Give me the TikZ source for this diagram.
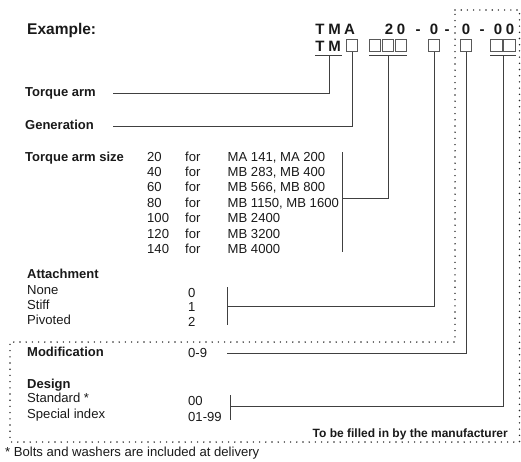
\documentclass[tikz,border=0pt]{standalone}
\usepackage{fontspec}
\setmainfont{Liberation Sans}
\begin{document}
\begin{tikzpicture}[x=1pt,y=-1pt,
  lab/.style={anchor=base west,inner sep=0pt,text=black!90,font=\bfseries\fontsize{13}{15}\selectfont},
  txt/.style={anchor=base west,inner sep=0pt,text=black!90,font=\fontsize{13.1}{15}\selectfont},
  chr/.style={anchor=base,inner sep=0pt,text=black!90,font=\bfseries\fontsize{15}{17}\selectfont},
  cbox/.style={draw=black!65,line width=0.7pt,minimum width=11.5pt,minimum height=11.5pt,inner sep=0pt},
  lead/.style={draw=black!75,line width=0.8pt},
  dots/.style={draw=black!85,line width=1.6pt,dash pattern=on 0pt off 6.2pt,line cap=round}]
\useasboundingbox (0,0) rectangle (521,461);

% dotted region (to be filled in by the manufacturer)
\draw[dots] (455,10) -- (519.5,10) -- (519.5,442) -- (10,442) -- (10,342) -- (455,342) -- cycle;

% header
\node[lab,font=\bfseries\fontsize{15.5}{17}\selectfont] (ex) at (27,34.5) {Example:};
\node[chr] (r1a) at (320,34.5) {T};
\node[chr] (r1b) at (334.5,34.5) {M};
\node[chr] (r1c) at (349.5,34.5) {A};
\node[chr] (r1d) at (389,34.5) {2};
\node[chr] (r1e) at (401,34.5) {0};
\node[chr] (r1f) at (418,34.5) {-};
\node[chr] (r1g) at (434,34.5) {0};
\node[chr] (r1h) at (447,34.5) {-};
\node[chr] (r1i) at (466,34.5) {0};
\node[chr] (r1j) at (482,34.5) {-};
\node[chr] (r1k) at (498,34.5) {0};
\node[chr] (r1l) at (510,34.5) {0};

\node[chr] (r2a) at (320,51.5) {T};
\node[chr] (r2b) at (334.5,51.5) {M};
\node[cbox] (bg) at (352,45.5) {};
\node[cbox] (bs1) at (375,45.5) {};
\node[cbox] (bs2) at (388,45.5) {};
\node[cbox] (bs3) at (401,45.5) {};
\node[cbox] (ba) at (434,45.5) {};
\node[cbox] (bm) at (466,45.5) {};
\node[cbox] (bd1) at (496.5,45.5) {};
\node[cbox] (bd2) at (509.5,45.5) {};

% underlines
\coordinate (uT1) at (315,55.5); \coordinate (uT2) at (342,55.5); \coordinate (uT) at (329,55.5);
\coordinate (uS1) at (369,55.5); \coordinate (uS2) at (407,55.5); \coordinate (uS) at (388,55.5);
\coordinate (uD1) at (490,55.5); \coordinate (uD2) at (516,55.5); \coordinate (uD) at (503,55.5);
\draw[lead] (uT1) -- (uT2);
\draw[lead] (uS1) -- (uS2);
\draw[lead] (uD1) -- (uD2);

% labels
\node[lab] (ta) at (25,96.7) {Torque arm};
\node[lab] (gen) at (25,129.5) {Generation};
\node[lab] (tas) at (25,161) {Torque arm size};

\foreach \n/\m [count=\i from 0] in {20/{MA 141, MA 200},40/{MB 283, MB 400},60/{MB 566, MB 800},80/{MB 1150, MB 1600},100/{MB 2400},120/{MB 3200},140/{MB 4000}}{
  \node[txt] (sn\i) at (147,161+15.4*\i) {\n};
  \node[txt] (sf\i) at (185,161+15.4*\i) {for};
  \node[txt] (sm\i) at (227.5,161+15.4*\i) {\m};
}

\node[lab] (att) at (27,278.5) {Attachment};
\node[txt] (an) at (27,294.5) {None};
\node[txt] (as) at (27,309.5) {Stiff};
\node[txt] (ap) at (27,324.5) {Pivoted};
\node[txt] (a0) at (188,297) {0};
\node[txt] (a1) at (188,311.5) {1};
\node[txt] (a2) at (188,326.5) {2};

\node[lab] (mod) at (27,356) {Modification};
\node[txt] (m09) at (188,357.5) {0-9};

\node[lab] (des) at (27,388) {Design};
\node[txt] (dst) at (27,402.5) {Standard *};
\node[txt] (dsp) at (27,418.5) {Special index};
\node[txt] (d00) at (188,405) {00};
\node[txt] (d01) at (188,421) {01-99};

\node[lab,anchor=base east,font=\bfseries\fontsize{12}{14}\selectfont] (fill) at (508,437.5) {To be filled in by the manufacturer};
\node[txt] (foot) at (5,456) {* Bolts and washers are included at delivery};

% leader lines
\coordinate (lTA) at (113,93);
\coordinate (lGen) at (113,126);
\coordinate (lSize) at (342.5,198);
\coordinate (lAtt) at (227,306);
\coordinate (lMod) at (227,353);
\coordinate (lDes) at (230,406);
\draw[lead] (uT) |- (lTA);
\draw[lead] (bg.south) |- (lGen);
\draw[lead] (uS) |- (lSize);
\draw[lead] (ba.south) |- (lAtt);
\draw[lead] (bm.south) |- (lMod);
\draw[lead] (uD) |- (lDes);

% brackets
\draw[lead] (342.5,152) -- (342.5,252);
\draw[lead] (227,287) -- (227,325);
\draw[lead] (230,395) -- (230,420);

\end{tikzpicture}
\end{document}
